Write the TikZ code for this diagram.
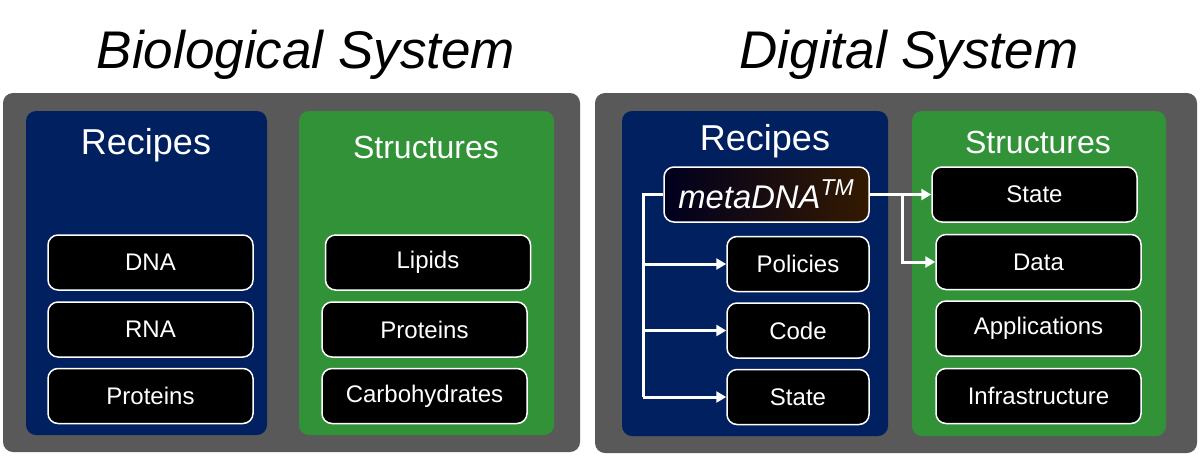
\documentclass[tikz,border=0pt]{standalone}
\usepackage{fontspec}
\setmainfont{Liberation Sans}
\usetikzlibrary{arrows.meta}
\definecolor{slate}{RGB}{89,89,89}
\definecolor{navy}{RGB}{0,32,96}
\definecolor{leaf}{RGB}{50,146,56}

\begin{document}
\begin{tikzpicture}[x=0.5pt, y=-0.5pt,
  item/.style={draw=white, fill=black, text=white, rounded corners=5pt, line width=0.75pt,
    minimum width=102.5pt, minimum height=27.5pt, inner sep=0pt, font=\fontsize{12}{14}\selectfont},
  short/.style={item, minimum width=71pt},
  head/.style={text=white, anchor=base, inner sep=0pt},
  title/.style={anchor=base, inner sep=0pt, font=\fontsize{26.5}{30}\selectfont\itshape},
  flow/.style={draw=white, line width=1.5pt, -{Triangle[length=5pt,width=5.5pt]}}]
  \useasboundingbox (0,0) rectangle (1200,456);

  \node[title] (bio) at (306,68) {Biological System};
  \node[title] (dig) at (909,68) {Digital System};

  % panels
  \fill[slate, rounded corners=5pt] (3,93) rectangle (580,452);
  \fill[slate, rounded corners=5pt] (595,93) rectangle (1197,453);
  \fill[navy, rounded corners=5pt] (26,111) rectangle (267,435);
  \fill[leaf, rounded corners=5pt] (299,111) rectangle (554,435);
  \fill[navy, rounded corners=5pt] (622,111) rectangle (888,436);
  \fill[leaf, rounded corners=5pt] (912,111) rectangle (1166,436);

  \node[head, font=\fontsize{18}{20}\selectfont] (rec1) at (146,154) {Recipes};
  \node[head, font=\fontsize{16}{18}\selectfont] (str1) at (426,158) {Structures};
  \node[head, font=\fontsize{18}{20}\selectfont] (rec2) at (765,150) {Recipes};
  \node[head, font=\fontsize{16}{18}\selectfont] (str2) at (1038,153) {Structures};

  % biological side
  \node[item] (dna) at (150.5,262.5) {DNA};
  \node[item] (rna) at (150.5,329.5) {RNA};
  \node[item] (prot) at (150.5,396) {Proteins};
  \node[item] (lip) at (428,262.5) {Lipids};
  \node[item] (prot2) at (424.5,329.5) {Proteins};
  \node[item] (carb) at (424.5,396) {Carbohydrates};

  % digital side
  \node[item, left color=black!88!blue, middle color=black!85!red, right color=black!80!orange,
    font=\fontsize{16.4}{18}\selectfont\itshape] (meta) at (766.5,194.5) {metaDNA\textsuperscript{TM}};
  \node[short] (pol) at (798,264) {Policies};
  \node[short] (code) at (798,330.5) {Code};
  \node[short] (st) at (798,397) {State};
  \node[item] (st2) at (1034.5,194.5) {State};
  \node[item] (data) at (1038.5,262) {Data};
  \node[item] (app) at (1038.5,328.5) {Applications};
  \node[item] (infra) at (1038.5,396) {Infrastructure};

  \coordinate (trunk) at (643,194.5);
  \coordinate (fork) at (902,194.5);
  \draw[white, line width=1.5pt] (meta.west) -- (trunk) -- (trunk |- st.west);
  \draw[flow] (trunk |- pol.west) -- (pol.west);
  \draw[flow] (trunk |- code.west) -- (code.west);
  \draw[flow] (trunk |- st.west) -- (st.west);
  \draw[flow] (meta.east) -- (st2.west);
  \draw[flow] (fork) -- (fork |- data.west) -- (data.west);
\end{tikzpicture}
\end{document}
